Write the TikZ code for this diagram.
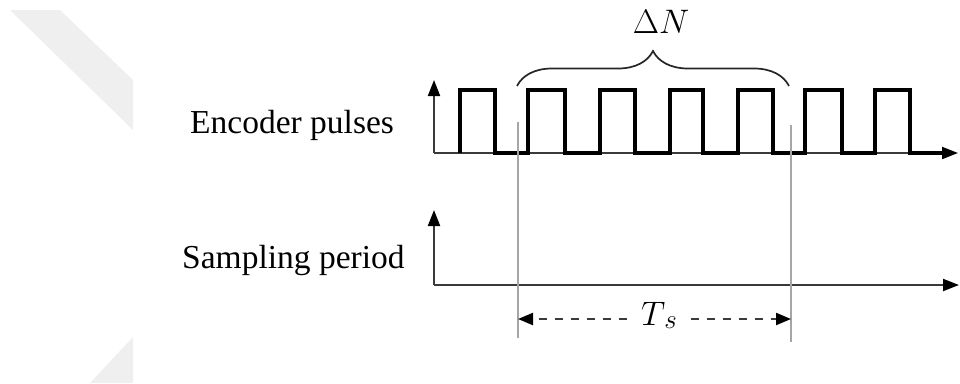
\RequirePackage{fix-cm}
\documentclass[tikz,border=0pt]{standalone}
\usepackage{fontspec}
\setmainfont{Liberation Serif}
\usetikzlibrary{arrows.meta,decorations.pathreplacing}
\definecolor{wm}{HTML}{EFEFEF}
\definecolor{axisgray}{HTML}{3A3A3A}
\definecolor{guide}{HTML}{A6A6A6}
\begin{document}
\begin{tikzpicture}[x=1pt,y=-1pt,
  axis/.style={line width=2pt, draw=axisgray, -{Triangle[length=16pt,width=12pt,black]}},
  pulse/.style={line width=3.6pt, line join=miter, draw=black},
  guideline/.style={line width=1.2pt, draw=guide},
  dim/.style={line width=2.2pt, draw=axisgray, dash pattern=on 8pt off 8pt,
    -{Triangle[length=15pt,width=12pt,black]}},
  label/.style={inner sep=0pt, anchor=base west, font=\fontsize{33.5}{40}\selectfont},
  bracestyle/.style={line width=1.7pt, draw=black!85,
    decorate, decoration={brace, amplitude=35pt}}]
\useasboundingbox (0,0) rectangle (960,383);

% light background bands
\fill[wm] (10,10) -- (60,10) -- (133,80) -- (133,130) -- cycle;
\fill[wm] (90,383) -- (133,337) -- (133,383) -- cycle;

% signal names
\node[label] (enc) at (190,133) {Encoder pulses};
\node[label] (samp) at (182,268) {Sampling period};

% axes
\coordinate (o1) at (434,153);
\coordinate (y1) at (434,80);
\coordinate (x1) at (958,153);
\coordinate (o2) at (434,285);
\coordinate (y2) at (434,210);
\coordinate (x2) at (959,285);
\draw[axis] (o1) -- (y1);
\draw[axis] (o1) -- (x1);
\draw[axis] (o2) -- (y2);
\draw[axis] (o2) -- (x2);

% pulse train
\draw[pulse] (460,153) -- (460,90) -- (495,90) -- (495,153)
  -- (528,153) -- (528,90) -- (565,90) -- (565,153)
  -- (600,153) -- (600,90) -- (635,90) -- (635,153)
  -- (670,153) -- (670,90) -- (703,90) -- (703,153)
  -- (738,153) -- (738,90) -- (773,90) -- (773,153)
  -- (805,153) -- (805,90) -- (842,90) -- (842,153)
  -- (875,153) -- (875,90) -- (910,90) -- (910,153)
  -- (944,153);

% sampling instants
\coordinate (g1t) at (518,122);
\coordinate (g1b) at (518,338);
\coordinate (g2t) at (791,125);
\coordinate (g2b) at (791,342);
\draw[guideline] (g1t) -- (g1b);
\draw[guideline] (g2t) -- (g2b);

% counted pulses
\coordinate (bl) at (517,86);
\coordinate (br) at (789,86);
\draw[bracestyle] (bl) -- (br);
\node[inner sep=0pt, anchor=base, font=\fontsize{34}{40}\selectfont] (dn) at (661,33) {$\Delta N$};

% sampling period
\node[inner xsep=14pt, inner ysep=0pt, anchor=base, font=\fontsize{34}{40}\selectfont] (ts) at (659,325)
  {$T$\kern-1pt\raisebox{-3pt}{\fontsize{27}{30}\selectfont$s$}};
\coordinate (tl) at (518,319);
\coordinate (tr) at (791,319);
\draw[dim] (ts.west |- tl) -- (tl);
\draw[dim] (ts.east |- tr) -- (tr);
\end{tikzpicture}
\end{document}
